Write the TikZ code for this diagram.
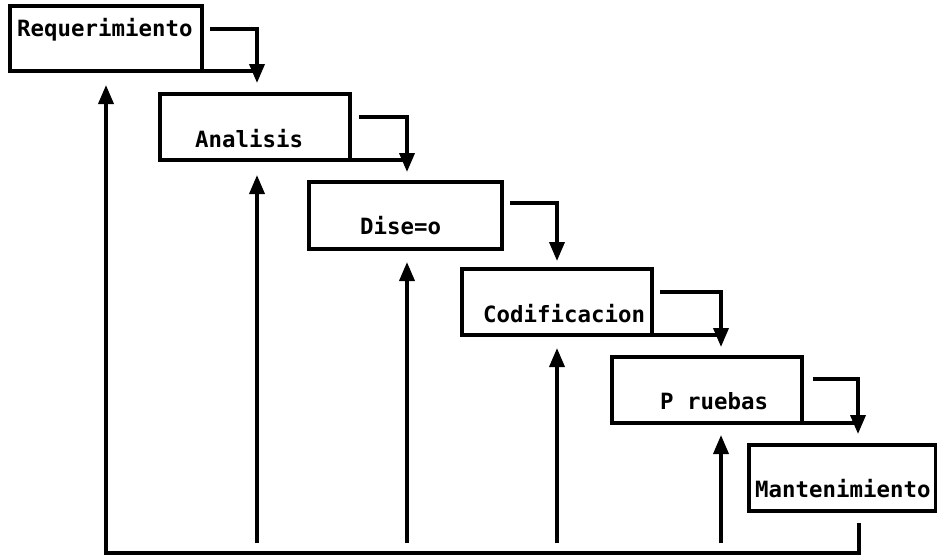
\documentclass[tikz,border=0pt]{standalone}
\usepackage{fontspec}
\newfontfamily\termfont{DejaVu Sans Mono}
\usetikzlibrary{arrows.meta}
\begin{document}
\begin{tikzpicture}[x=1pt,y=-1pt,
  stage/.style={draw, line width=3.4pt, anchor=north west, inner sep=0pt, outer sep=0pt},
  lbl/.style={anchor=west, inner sep=0pt, font=\termfont\bfseries\fontsize{22.4}{24}\selectfont},
  wire/.style={line width=3.6pt},
  flow/.style={wire, -{Triangle[width=15pt,length=19pt]}}]
\useasboundingbox[fill=white] (0,0) rectangle (937,558);

% stage boxes
\node[stage, minimum width=192pt, minimum height=65pt] (req) at (10,6) {};
\node[stage, minimum width=190pt, minimum height=66pt] (ana) at (160,94) {};
\node[stage, minimum width=193pt, minimum height=67pt] (dis) at (309,182) {};
\node[stage, minimum width=190pt, minimum height=66pt] (cod) at (462,269) {};
\node[stage, minimum width=190pt, minimum height=66pt] (pru) at (612,357) {};
\node[stage, minimum width=187pt, minimum height=66pt] (man) at (749,445) {};

% stage labels
\node[lbl] (treq) at (17,30) {Requerimiento};
\node[lbl] (tana) at (195,139) {Analisis};
\node[lbl] (tdis) at (360,226) {Dise=o};
\node[lbl] (tcod) at (483,314) {Codificacion};
\node[lbl] (tpru) at (660,401) {P ruebas};
\node[lbl] (tman) at (755,489) {Mantenimiento};

% bottom edges carried on to the next drop
\coordinate (e1) at (257,71);
\coordinate (e2) at (407,160);
\coordinate (e4) at (721,335);
\coordinate (e5) at (858,423);
\draw[wire] (req.south east) -- (e1);
\draw[wire] (ana.south east) -- (e2);
\draw[wire] (cod.south east) -- (e4);
\draw[wire] (pru.south east) -- (e5);

% forward steps
\coordinate (s1) at (210,29);  \coordinate (d1) at (257,83);
\coordinate (s2) at (359,117); \coordinate (d2) at (407,172);
\coordinate (s3) at (510,203); \coordinate (d3) at (557,261);
\coordinate (s4) at (660,292); \coordinate (d4) at (721,347);
\coordinate (s5) at (813,379); \coordinate (d5) at (858,434);
\draw[flow] (s1) -| (d1);
\draw[flow] (s2) -| (d2);
\draw[flow] (s3) -| (d3);
\draw[flow] (s4) -| (d4);
\draw[flow] (s5) -| (d5);

% feedback loop
\coordinate (m0) at (859,523);
\coordinate (base) at (859,553);
\coordinate (u1) at (106,85);
\draw[flow] (m0) -- (base) -| (u1);

\coordinate (b2) at (257,543); \coordinate (u2) at (257,175);
\coordinate (b3) at (407,543); \coordinate (u3) at (407,262);
\coordinate (b4) at (557,543); \coordinate (u4) at (557,348);
\coordinate (b5) at (721,543); \coordinate (u5) at (721,435);
\draw[flow] (b2) -- (u2);
\draw[flow] (b3) -- (u3);
\draw[flow] (b4) -- (u4);
\draw[flow] (b5) -- (u5);
\end{tikzpicture}
\end{document}
